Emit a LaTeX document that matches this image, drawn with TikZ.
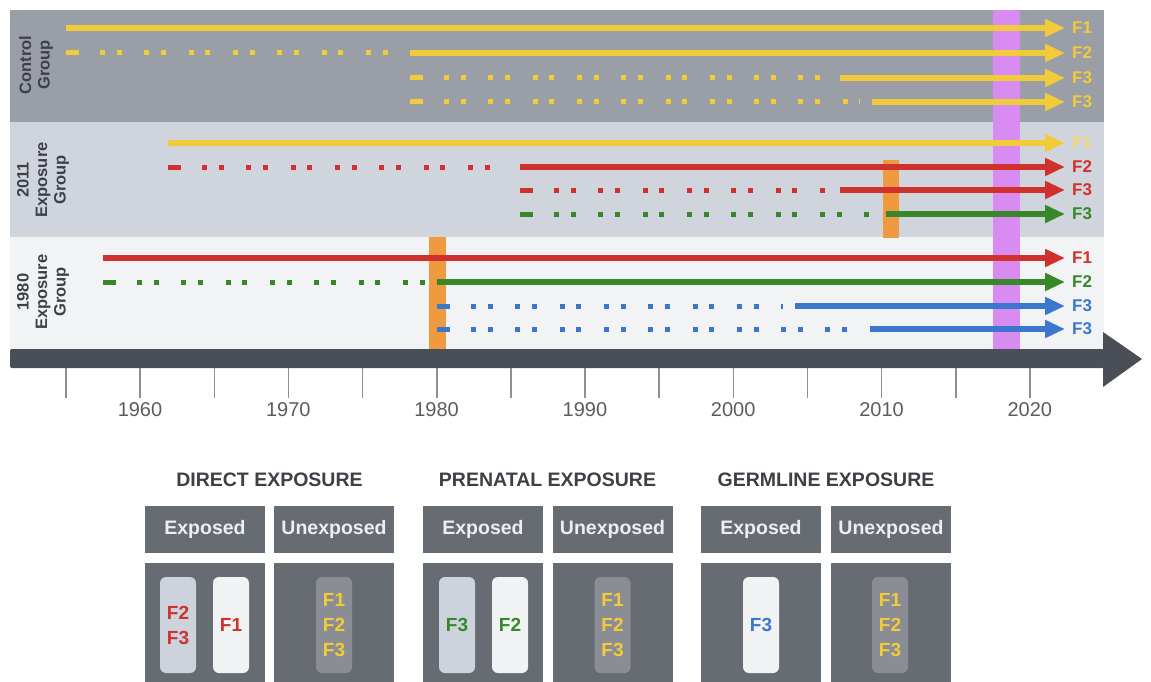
\documentclass[tikz,border=0pt]{standalone}
\usepackage{fontspec}
\setmainfont{Liberation Sans}
\usetikzlibrary{arrows.meta}
\definecolor{cyell}{HTML}{F2CB3A}
\definecolor{cyelf}{HTML}{F4D872}
\definecolor{cred}{HTML}{D0312D}
\definecolor{cgreen}{HTML}{38882A}
\definecolor{cblue}{HTML}{3B76CF}
\definecolor{corng}{HTML}{F09A40}
\definecolor{cpurp}{HTML}{D88CF2}
\definecolor{cctrl}{HTML}{9A9EA6}
\definecolor{cmid}{HTML}{D0D5DD}
\definecolor{clow}{HTML}{F2F3F5}
\definecolor{caxis}{HTML}{4A4F57}
\definecolor{ctick}{HTML}{8C8F94}
\definecolor{cyear}{HTML}{5A5C60}
\definecolor{ctext}{HTML}{3D4047}
\definecolor{cbox}{HTML}{676B72}
\definecolor{chead}{HTML}{EEEEEE}
\definecolor{cpillb}{HTML}{CDD3DC}
\definecolor{cpillw}{HTML}{F1F2F4}
\definecolor{cpillg}{HTML}{8A8D93}

\begin{document}
\begin{tikzpicture}[x=1pt,y=-1pt,
    gline/.style={line width=5.5pt,-{Triangle[length=20pt,width=17pt]}},
    gdash/.style={line width=5pt},
    gdots/.style={line width=5pt,dash pattern=on 5pt off 11.7pt on 5pt off 22.6pt},
    flab/.style={anchor=west,inner xsep=7pt,inner ysep=0pt,font=\fontsize{17}{20}\selectfont\bfseries},
    grp/.style={rotate=90,align=center,text=ctext,font=\fontsize{16.5}{18.5}\selectfont\bfseries},
    yr/.style={text=cyear,font=\fontsize{20}{24}\selectfont},
    ttl/.style={text=ctext,font=\fontsize{19.5}{22}\selectfont\bfseries},
    hbox/.style={fill=cbox,minimum width=120pt,minimum height=47pt,inner sep=0pt,text=chead,font=\fontsize{19.5}{22}\selectfont\bfseries},
    lbox/.style={fill=cbox,minimum width=120pt,minimum height=119pt,inner sep=0pt},
    pill/.style={rounded corners=6pt,minimum width=36pt,minimum height=96pt,inner sep=0pt,align=center,font=\fontsize{19}{25}\selectfont\bfseries}
  ]
  \useasboundingbox (0,0) rectangle (1151,682);

  % bands
  \fill[cctrl] (10,10) rectangle (1104,122);
  \fill[cmid] (10,122) rectangle (1104,237);
  \fill[clow] (10,237) rectangle (1104,349);
  \fill[cpurp] (993,10) rectangle (1020,349);
  \fill[corng] (429,237) rectangle (446,349);
  \fill[corng] (883,160) rectangle (899,238);

  \node[grp] (gctrl) at (36,65) {Control\\Group};
  \node[grp] (g2011) at (43,180) {2011\\Exposure\\Group};
  \node[grp] (g1980) at (43,292) {1980\\Exposure\\Group};

  % control group
  \coordinate (c1s) at (66,28);
  \node[flab,text=cyell] (c1) at (1065,28) {F1};
  \draw[gline,cyell] (c1s) -- (c1.west);

  \coordinate (c2s) at (66,53); \coordinate (c2m) at (410,53);
  \node[flab,text=cyell] (c2) at (1065,53) {F2};
  \draw[gdash,cyell] (c2s) -- ++(13,0);
  \draw[gdots,cyell] ([xshift=34pt]c2s) -- ([xshift=-12pt]c2m);
  \draw[gline,cyell] (c2m) -- (c2.west);

  \coordinate (c3s) at (410,78); \coordinate (c3m) at (840,78);
  \node[flab,text=cyell] (c3) at (1065,78) {F3};
  \draw[gdash,cyell] (c3s) -- ++(13,0);
  \draw[gdots,cyell] ([xshift=34pt]c3s) -- ([xshift=-12pt]c3m);
  \draw[gline,cyell] (c3m) -- (c3.west);

  \coordinate (c4s) at (410,102); \coordinate (c4m) at (872,102);
  \node[flab,text=cyell] (c4) at (1065,102) {F3};
  \draw[gdash,cyell] (c4s) -- ++(13,0);
  \draw[gdots,cyell] ([xshift=34pt]c4s) -- ([xshift=-12pt]c4m);
  \draw[gline,cyell] (c4m) -- (c4.west);

  % 2011 exposure group
  \coordinate (e1s) at (168,143);
  \node[flab,text=cyelf] (e1) at (1065,143) {F1};
  \draw[gline,cyell] (e1s) -- (e1.west);

  \coordinate (e2s) at (168,167); \coordinate (e2m) at (520,167);
  \node[flab,text=cred] (e2) at (1065,167) {F2};
  \draw[gdash,cred] (e2s) -- ++(13,0);
  \draw[gdots,cred] ([xshift=34pt]e2s) -- ([xshift=-12pt]e2m);
  \draw[gline,cred] (e2m) -- (e2.west);

  \coordinate (e3s) at (520,190); \coordinate (e3m) at (840,190);
  \node[flab,text=cred] (e3) at (1065,190) {F3};
  \draw[gdash,cred] (e3s) -- ++(13,0);
  \draw[gdots,cred] ([xshift=34pt]e3s) -- ([xshift=-12pt]e3m);
  \draw[gline,cred] (e3m) -- (e3.west);

  \coordinate (e4s) at (520,214); \coordinate (e4m) at (886,214);
  \node[flab,text=cgreen] (e4) at (1065,214) {F3};
  \draw[gdash,cgreen] (e4s) -- ++(13,0);
  \draw[gdots,cgreen] ([xshift=34pt]e4s) -- ([xshift=-12pt]e4m);
  \draw[gline,cgreen] (e4m) -- (e4.west);

  % 1980 exposure group
  \coordinate (o1s) at (103,258);
  \node[flab,text=cred] (o1) at (1065,258) {F1};
  \draw[gline,cred] (o1s) -- (o1.west);

  \coordinate (o2s) at (103,282); \coordinate (o2m) at (437,282);
  \node[flab,text=cgreen] (o2) at (1065,282) {F2};
  \draw[gdash,cgreen] (o2s) -- ++(13,0);
  \draw[gdots,cgreen] ([xshift=34pt]o2s) -- ([xshift=-12pt]o2m);
  \draw[gline,cgreen] (o2m) -- (o2.west);

  \coordinate (o3s) at (437,306); \coordinate (o3m) at (795,306);
  \node[flab,text=cblue] (o3) at (1065,306) {F3};
  \draw[gdash,cblue] (o3s) -- ++(13,0);
  \draw[gdots,cblue] ([xshift=34pt]o3s) -- ([xshift=-12pt]o3m);
  \draw[gline,cblue] (o3m) -- (o3.west);

  \coordinate (o4s) at (437,329); \coordinate (o4m) at (870,329);
  \node[flab,text=cblue] (o4) at (1065,329) {F3};
  \draw[gdash,cblue] (o4s) -- ++(13,0);
  \draw[gdots,cblue] ([xshift=34pt]o4s) -- ([xshift=-12pt]o4m);
  \draw[gline,cblue] (o4m) -- (o4.west);

  % time axis
  \fill[caxis,rounded corners=2pt] (10,349) rectangle (1104,368);
  \fill[caxis] (1103,332) -- (1142,359) -- (1103,387) -- cycle;
  \foreach \k in {0,...,13}
    \draw[ctick,line width=1.5pt] ({66+\k*74.15},368) -- ++(0,30);
  \foreach \yy [count=\i from 0] in {1960,1970,...,2020}
    \node[yr] (y\yy) at ({140+\i*148.3},410) {\yy};

  % exposure panels
  \node[ttl] (tdir) at (269.5,480) {DIRECT EXPOSURE};
  \node[ttl] (tpre) at (547.5,480) {PRENATAL EXPOSURE};
  \node[ttl] (tger) at (826,480) {GERMLINE EXPOSURE};

  \node[hbox] (dexp) at (205,529.5) {Exposed};
  \node[hbox] (dune) at (334,529.5) {Unexposed};
  \node[hbox] (pexp) at (483,529.5) {Exposed};
  \node[hbox] (pune) at (612.5,529.5) {Unexposed};
  \node[hbox] (gexp) at (761,529.5) {Exposed};
  \node[hbox] (gune) at (891,529.5) {Unexposed};

  \node[lbox] (dexpb) at (205,622.5) {};
  \node[lbox] (duneb) at (334,622.5) {};
  \node[lbox] (pexpb) at (483,622.5) {};
  \node[lbox] (puneb) at (612.5,622.5) {};
  \node[lbox] (gexpb) at (761,622.5) {};
  \node[lbox] (guneb) at (891,622.5) {};

  \node[pill,fill=cpillb,text=cred] (d23) at (178,625) {F2\\F3};
  \node[pill,fill=cpillw,text=cred] (d1) at (231,625) {F1};
  \node[pill,fill=cpillg,text=cyell] (du) at (334,625) {F1\\F2\\F3};
  \node[pill,fill=cpillb,text=cgreen] (p3) at (457,625) {F3};
  \node[pill,fill=cpillw,text=cgreen] (p2) at (510,625) {F2};
  \node[pill,fill=cpillg,text=cyell] (pu) at (612.5,625) {F1\\F2\\F3};
  \node[pill,fill=cpillw,text=cblue] (g3) at (761,625) {F3};
  \node[pill,fill=cpillg,text=cyell] (gu) at (890,625) {F1\\F2\\F3};
\end{tikzpicture}
\end{document}
